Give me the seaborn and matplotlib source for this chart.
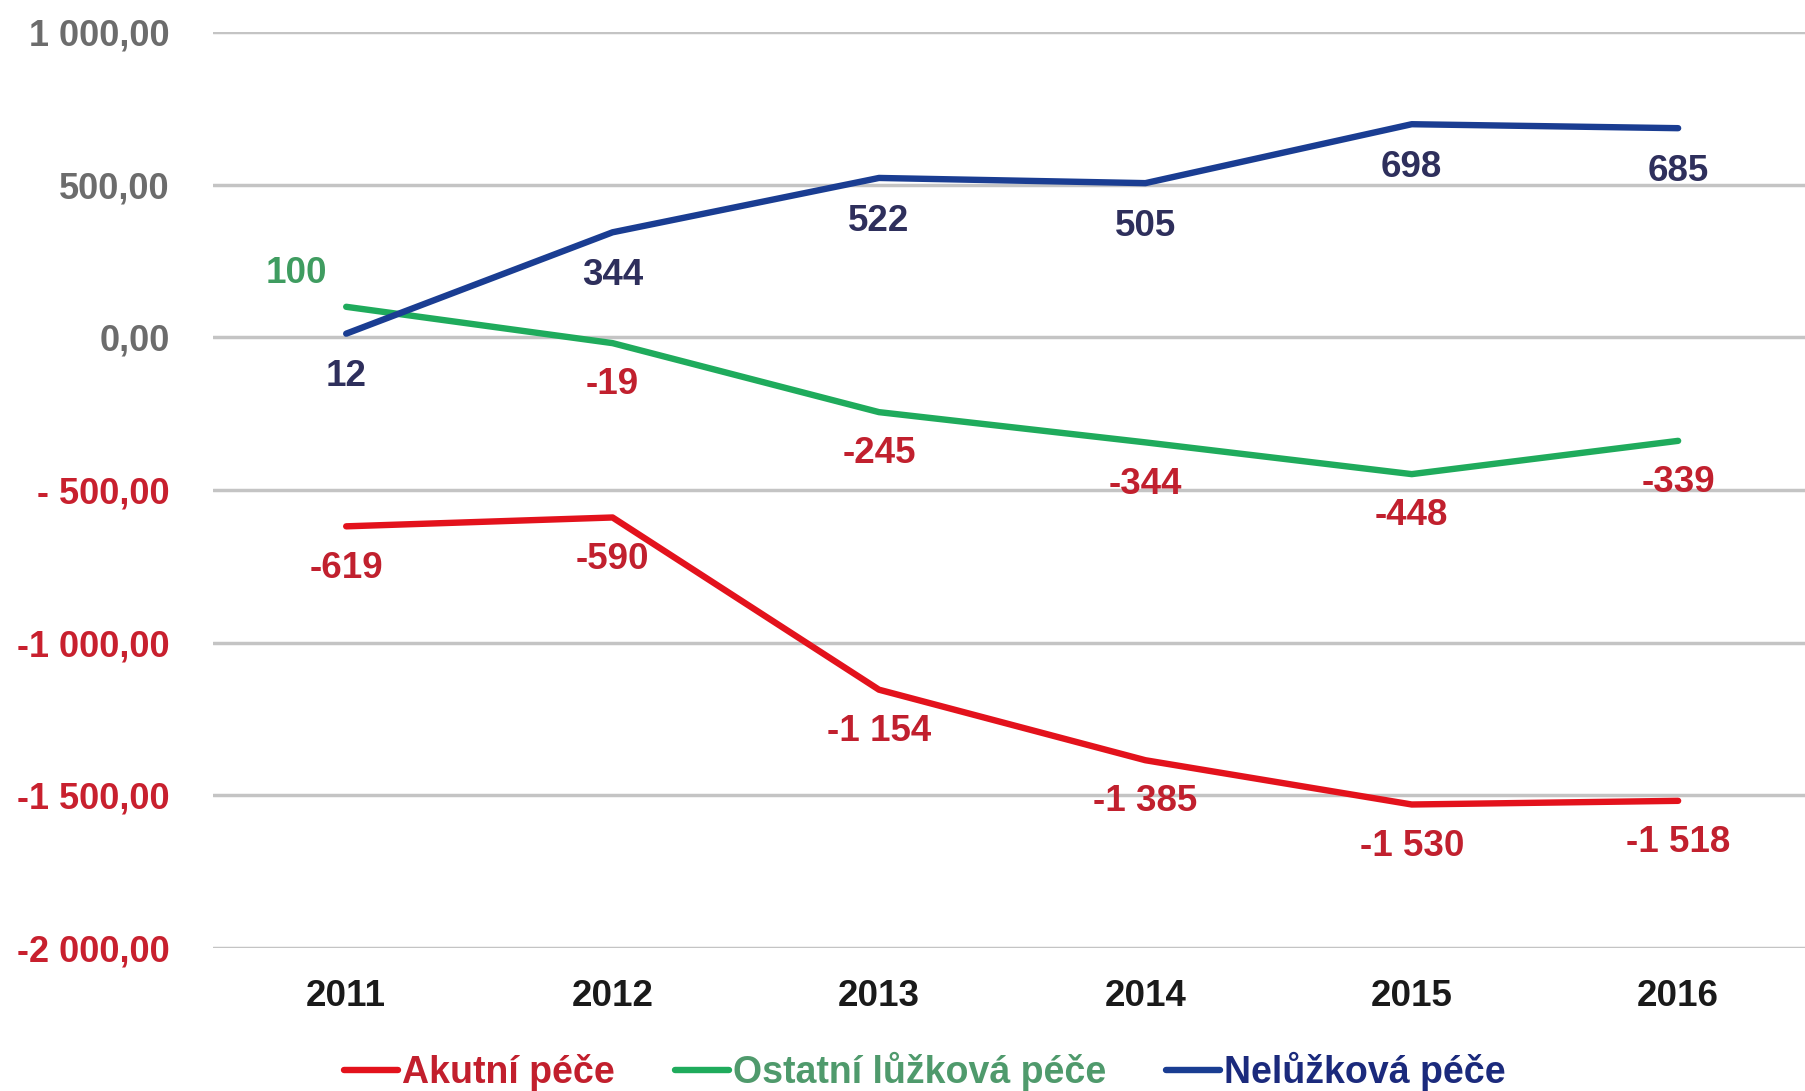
import matplotlib
matplotlib.use("Agg")
import matplotlib.pyplot as plt
import seaborn as sns
import pandas as pd

years = [2011, 2012, 2013, 2014, 2015, 2016]
series_names = ["Akutní péče", "Ostatní lůžková péče", "Nelůžková péče"]
akutni = [-619, -590, -1154, -1385, -1530, -1518]
ostatni = [100, -19, -245, -344, -448, -339]
neluzkova = [12, 344, 522, 505, 698, 685]
y_ticks = [1000, 500, 0, -500, -1000, -1500, -2000]
y_tick_labels = ["1 000,00", "500,00", "0,00", "- 500,00", "-1 000,00", "-1 500,00", "-2 000,00"]

line_colors = {"Akutní péče": "#e3121c", "Ostatní lůžková péče": "#1fab5c", "Nelůžková péče": "#1a3d92"}
legend_text_colors = ["#c21f2d", "#4f9a6c", "#1b2a7c"]
NAVY_LBL = "#2e2f5c"
RED_LBL = "#c1202e"
GREEN_LBL = "#3f9c60"

df = pd.DataFrame({
    "rok": years * 3,
    "hodnota": akutni + ostatni + neluzkova,
    "serie": [series_names[0]] * 6 + [series_names[1]] * 6 + [series_names[2]] * 6,
})

sns.set_style("white")
plt.rcParams["font.family"] = ["Liberation Sans", "DejaVu Sans"]
plt.rcParams["font.weight"] = "bold"

fig = plt.figure(figsize=(18.06, 10.91), dpi=100)
ax = fig.add_axes([213 / 1806, 1 - 948 / 1091, 1 - 213 / 1806, (948 - 32) / 1091])

sns.lineplot(data=df, x="rok", y="hodnota", hue="serie", palette=line_colors,
             hue_order=series_names, linewidth=4.6, ax=ax, legend=False, sort=False,
             solid_capstyle="round", zorder=3)

ax.set_xlim(2010.5, 2016.48)
ax.set_ylim(-2000, 1000)
ax.set_yticks(y_ticks)
ax.set_yticklabels(y_tick_labels)
ax.set_xticks(years)
ax.set_xticklabels([str(y) for y in years])
ax.set_xlabel("")
ax.set_ylabel("")
for s in ax.spines.values():
    s.set_visible(False)
ax.grid(axis="y", color="#c4c4c4", linewidth=2.5, zorder=1)
ax.grid(axis="x", visible=False)
ax.tick_params(axis="y", length=0, pad=31, labelsize=26)
ax.tick_params(axis="x", length=0, pad=22, labelsize=26.5)
for lbl, v in zip(ax.get_yticklabels(), y_ticks):
    lbl.set_color("#6c6c6c" if v >= 0 else "#c8202e")
    lbl.set_fontweight("bold")
for lbl in ax.get_xticklabels():
    lbl.set_color("#1a1a1a")
    lbl.set_fontweight("bold")


def fmt(v):
    s = f"{abs(v):,}".replace(",", " ")
    return ("-" if v < 0 else "") + s


LBL_SIZE = 26.5
for x, v in zip(years, neluzkova):
    ax.annotate(fmt(v), (x, v), xytext=(0, -31), textcoords="offset points",
                ha="center", va="center", fontsize=LBL_SIZE, fontweight="bold", color=NAVY_LBL)
for i, (x, v) in enumerate(zip(years, ostatni)):
    if i == 0:
        ax.annotate(fmt(v), (x, v), xytext=(-36, 24), textcoords="offset points",
                    ha="center", va="center", fontsize=LBL_SIZE, fontweight="bold", color=GREEN_LBL)
    else:
        ax.annotate(fmt(v), (x, v), xytext=(0, -30), textcoords="offset points",
                    ha="center", va="center", fontsize=LBL_SIZE, fontweight="bold", color=RED_LBL)
for x, v in zip(years, akutni):
    ax.annotate(fmt(v), (x, v), xytext=(0, -30), textcoords="offset points",
                ha="center", va="center", fontsize=LBL_SIZE, fontweight="bold", color=RED_LBL)

handles = [plt.Line2D([], [], color=line_colors[n], linewidth=4.6, solid_capstyle="round") for n in series_names]
leg = fig.legend(handles, series_names, loc="center", bbox_to_anchor=(0.512, 0.018), ncol=3,
                 frameon=False, handlelength=1.45, handletextpad=0.1,
                 columnspacing=1.6, prop={"weight": "bold", "size": 27})
for t, c in zip(leg.get_texts(), legend_text_colors):
    t.set_color(c)

fig.savefig("out.png", dpi=100, facecolor="white")
